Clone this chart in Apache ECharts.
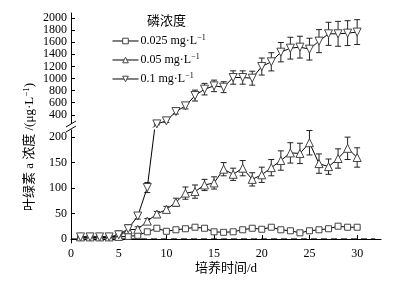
<!DOCTYPE html>
<html>
<head>
<meta charset="utf-8">
<script src="https://cdn.jsdelivr.net/npm/echarts@6/dist/echarts.min.js"></script>
<style>
  html, body { margin: 0; padding: 0; background: #fff; }
  #main { width: 405px; height: 281px; }
</style>
</head>
<body>
<div id="main"></div>
<script>
// culture days
var days = [1, 2, 3, 4, 5, 6, 7, 8, 9, 10, 11, 12, 13, 14, 15, 16, 17, 18, 19, 20, 21, 22, 23, 24, 25, 26, 27, 28, 29, 30];
var seriesNames = ['0.025', '0.05', '0.1'];
// chlorophyll a, ug/L
var p025 = [3, 3, 3, 3, 4, 5, 7, 14, 21, 15, 18, 20, 23, 21, 14, 13, 14, 18, 21, 19, 23, 18, 16, 12, 16, 18, 20, 25, 23, 23];
var p025Err = [1, 1, 1, 1, 1, 2, 2, 2, 2, 2, 2, 2, 2, 2, 2, 2, 2, 2, 2, 2, 2, 2, 2, 2, 2, 2, 2, 2, 2, 2];
var p05 = [4, 4, 4, 4, 5, 18, 19, 35, 49, 58, 72, 90, 93, 106, 110, 137, 127, 139, 117, 126, 140, 154, 169, 168, 189, 148, 142, 158, 178, 160];
var p05Err = [2, 2, 2, 2, 3, 5, 5, 5, 5, 6, 8, 12, 13, 11, 12, 13, 12, 15, 13, 15, 16, 19, 20, 20, 24, 19, 15, 19, 22, 19];
var p1 = [4, 4, 4, 4, 8, 20, 45, 101, 251, 301, 454, 548, 718, 824, 878, 857, 1016, 1016, 1005, 1197, 1275, 1434, 1500, 1517, 1484, 1616, 1737, 1737, 1748, 1765];
var p1Err = [2, 2, 2, 2, 8, 8, 6, 10, 15, 25, 40, 50, 90, 95, 95, 90, 110, 110, 115, 140, 150, 160, 180, 180, 180, 190, 190, 205, 205, 205];
// dashed zero reference line, from day 0 to ~day 32
var zeroLine = [[0, 0], [31.9, 0]];

var FONT = "'Liberation Serif', 'Noto Sans CJK SC', serif";
var downTri = 'path://M0,0 L10,0 L5,9 Z';

function pts(v) {
    return days.map(function (d, i) { return [d, v[i]]; });
}
function errs(v, e) {
    return days.map(function (d, i) { return [d, v[i] - e[i], v[i] + e[i]]; });
}
function errRender(params, api) {
    var x = api.value(0);
    var top = api.coord([x, api.value(2)]);
    var bot = api.coord([x, api.value(1)]);
    var w = 3;
    var st = { stroke: '#222', lineWidth: 1 };
    return {
        type: 'group',
        children: [
            { type: 'line', shape: { x1: top[0], y1: top[1], x2: bot[0], y2: bot[1] }, style: st },
            { type: 'line', shape: { x1: top[0] - w, y1: top[1], x2: top[0] + w, y2: top[1] }, style: st },
            { type: 'line', shape: { x1: bot[0] - w, y1: bot[1], x2: bot[0] + w, y2: bot[1] }, style: st }
        ]
    };
}
function errSeries(v, e, gi) {
    return {
        type: 'custom', xAxisIndex: gi, yAxisIndex: gi, clip: true, silent: true,
        renderItem: errRender, data: errs(v, e), z: 1
    };
}
function lineSeries(name, v, symbol, size, gi) {
    return {
        name: name, type: 'line', xAxisIndex: gi, yAxisIndex: gi, clip: true,
        data: pts(v), symbol: symbol, symbolSize: size, showAllSymbol: true,
        lineStyle: { color: '#000', width: 1 },
        itemStyle: { color: '#fff', borderColor: '#444', borderWidth: 1 },
        z: 3
    };
}
function plain(v) { return String(v); }

var chart = echarts.init(document.getElementById('main'));
var labelCommon = { color: '#000', fontFamily: FONT, fontSize: 12, margin: 4, showMinLabel: false, showMaxLabel: false, formatter: plain };
var axisCommon = {
    axisLine: { lineStyle: { color: '#000', width: 1 } },
    axisTick: { inside: true, length: 4, lineStyle: { color: '#000' } },
    splitLine: { show: false },
    axisLabel: labelCommon
};

var option = {
    animation: false,
    grid: [
        { left: 71, right: 24, top: 13, height: 114 },
        { left: 71, right: 24, top: 130, bottom: 38 }
    ],
    xAxis: [
        { gridIndex: 0, type: 'value', min: 0, max: 32.5, show: false },
        Object.assign({}, axisCommon, {
            gridIndex: 1, type: 'value', min: 0, max: 32.5, interval: 5,
            name: '培养时间/d', nameLocation: 'middle', nameGap: 19,
            nameTextStyle: { color: '#000', fontFamily: FONT, fontSize: 13 },
            axisLabel: Object.assign({}, labelCommon, { margin: 5, showMinLabel: true })
        })
    ],
    yAxis: [
        Object.assign({}, axisCommon, {
            gridIndex: 0, type: 'value', min: 200, max: 2080, splitNumber: 9
        }),
        Object.assign({}, axisCommon, {
            gridIndex: 1, type: 'value', min: -8, max: 214, splitNumber: 5
        })
    ],
    legend: {
        data: seriesNames, orient: 'vertical', left: 107, top: 29,
        itemWidth: 26, itemHeight: 7, itemGap: 6,
        itemStyle: { color: '#fff', borderColor: '#444', borderWidth: 1 },
        lineStyle: { color: '#000', width: 1 },
        formatter: function (n) { return n + ' mg·L{s|−1}'; },
        textStyle: {
            color: '#000', fontFamily: FONT, fontSize: 12, padding: [0, 0, 0, -3],
            rich: { s: { fontFamily: FONT, fontSize: 8, verticalAlign: 'top', padding: [0, 0, 6, 0], color: '#000' } }
        }
    },
    graphic: [
        { type: 'text', left: 147, top: 15, style: { text: '磷浓度', fontFamily: FONT, fontSize: 13, fill: '#000' } },
        {
            type: 'text', x: 30, y: 147, rotation: Math.PI / 2,
            style: {
                text: '叶绿素 a 浓度 /(μg·L{s|−1})', fontFamily: FONT, fontSize: 13, fill: '#000',
                align: 'center', verticalAlign: 'middle',
                rich: { s: { fontFamily: FONT, fontSize: 9, verticalAlign: 'top', padding: [0, 0, 6, 0], fill: '#000' } }
            }
        },
        // axis break marks
        { type: 'rect', shape: { x: 66, y: 124, width: 10, height: 5 }, style: { fill: '#fff' }, z: 10 },
        { type: 'line', shape: { x1: 66, y1: 127, x2: 76, y2: 121 }, style: { stroke: '#000', lineWidth: 1 }, z: 11 },
        { type: 'line', shape: { x1: 66, y1: 132, x2: 76, y2: 126 }, style: { stroke: '#000', lineWidth: 1 }, z: 11 }
    ],
    series: [
        {
            type: 'line', xAxisIndex: 1, yAxisIndex: 1, data: zeroLine, symbol: 'none', silent: true,
            lineStyle: { color: '#000', width: 1, type: [6, 4] }, z: 0
        },
        errSeries(p025, p025Err, 1),
        errSeries(p05, p05Err, 1),
        errSeries(p1, p1Err, 1),
        errSeries(p1, p1Err, 0),
        lineSeries(seriesNames[0], p025, 'rect', 6, 1),
        lineSeries(seriesNames[1], p05, 'triangle', 8, 1),
        lineSeries(seriesNames[2], p1, downTri, 8, 1),
        lineSeries(seriesNames[2], p1, downTri, 8, 0)
    ]
};
chart.setOption(option);
</script>
</body>
</html>
